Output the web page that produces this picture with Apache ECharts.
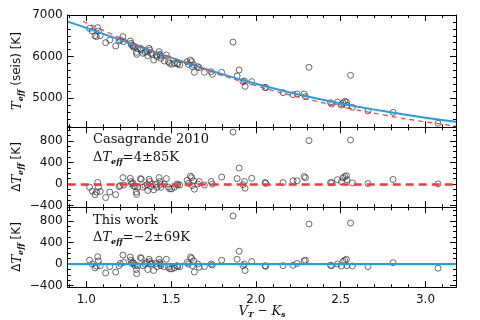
<!DOCTYPE html>
<html>
<head>
<meta charset="utf-8">
<script src="https://cdn.jsdelivr.net/npm/echarts@6.0.0/dist/echarts.min.js"></script>
<style>
  body { margin: 0; background: #fff; }
  #main { width: 480px; height: 320px; }
</style>
</head>
<body>
<div id="main"></div>
<script>
// V_T - K_s colour of each star (shared by the three panels)
var vk = [1.019,1.035,1.051,1.059,1.067,1.071,1.082,1.114,1.138,1.173,
          1.193,1.200,1.216,1.220,1.259,1.263,1.267,1.275,1.279,1.287,
          1.295,1.297,1.303,1.319,1.324,1.334,1.346,1.358,1.362,1.370,
          1.374,1.381,1.389,1.397,1.413,1.417,1.429,1.433,1.437,1.440,
          1.460,1.472,1.484,1.492,1.503,1.519,1.535,1.539,1.551,1.594,
          1.602,1.614,1.621,1.625,1.633,1.637,1.657,1.665,1.696,1.736,
          1.743,1.798,1.865,1.889,1.901,1.924,1.932,1.936,1.975,2.054,2.058,
          2.160,2.219,2.243,2.284,2.292,2.313,2.440,2.447,2.481,2.504,
          2.514,2.524,2.534,2.537,2.558,2.569,2.661,2.809,3.074]
// seismic Teff [K]
var teffSeis = [6679,6615,6503,6479,6696,6615,6503,6335,6399,6255,
                6375,6399,6479,6359,6375,6319,6279,6255,6223,6239,
                6103,6054,6199,6199,6159,6079,6103,6119,6022,6199,
                6159,6079,6054,5918,6038,5998,6119,6054,6022,5958,
                5894,6038,5878,5838,5814,5838,5838,5822,5798,5878,
                5814,5918,5878,5758,5798,5622,5758,5734,5622,5638,
                5574,5622,6350,5534,5678,5397,5413,5285,5397,5261,5253,
                5132,5084,5101,5101,5036,5743,4892,4860,4908,4836,
                4884,4925,4908,4829,5550,4781,4692,4661,4396]
// Delta Teff vs Casagrande 2010
var dCas = [-59,-130,-196,-148,30,-59,-136,-249,-148,-196,
            -47,-30,119,-18,107,47,0,18,-36,-47,
            -148,-190,-59,101,89,-59,-30,-12,-119,89,
            47,-47,0,-107,0,-59,119,47,-12,-59,
            0,101,-59,-89,-89,-59,0,-18,-18,71,
            12,148,119,-30,59,-95,0,47,-18,47,
            0,130,961,101,297,-12,47,-77,107,30,12,
            27,62,62,139,116,804,27,27,80,44,
            116,139,156,80,814,21,9,85,4]
// Delta Teff vs this work
var dThis = [71,0,-71,-36,136,59,-30,-166,-47,-148,
             -30,12,166,30,130,71,12,30,12,-30,
             -101,-178,-30,119,107,-30,0,30,-101,89,
             47,0,12,-119,12,-47,89,30,0,-30,
             -47,89,-59,-89,-89,-71,-30,-47,-47,30,
             0,130,107,-30,59,-148,0,-59,-47,0,
             -18,71,890,89,237,-30,0,-119,47,-30,-42,
             -30,-24,12,59,71,741,-24,-30,0,-36,
             47,71,89,-30,759,-36,-47,24,-77]

// calibration curves
var blueVK = [0.89,1.0,1.25,1.5,1.75,2.0,2.25,2.5,2.75,3.0,3.18]
var blueT  = [6840,6690,6330,5975,5640,5345,5090,4870,4690,4530,4435]
var redVK  = [0.98,1.1,1.25,1.5,1.75,2.0,2.25,2.5,2.75,3.0,3.18]
var redT   = [6850,6630,6360,5985,5620,5300,5030,4800,4600,4430,4330]

var xMajor = [1.0,1.5,2.0,2.5,3.0]
var yTopMajor = [5000,6000,7000]
var yDMajor = [-400,0,400,800]

var X_MIN = 0.89, X_MAX = 3.18
var LEFT = 67.7, WIDTH = 388.3
var panels = [
    {top: 15, height: 112.3, min: 4300, max: 7000, major: yTopMajor, minorStep: 1000 / 6},
    {top: 127.3, height: 80, min: -430, max: 1050, major: yDMajor, minorStep: 100},
    {top: 207.3, height: 80, min: -430, max: 1050, major: yDMajor, minorStep: 100}
]

function steps(lo, hi, step) {
    var out = []
    for (var k = Math.ceil(lo / step - 1e-6); k * step <= hi + 1e-6; k++) out.push(+(k * step).toFixed(4))
    return out
}
var xMinor = steps(X_MIN, X_MAX, 0.1)
var labFont = {fontFamily: 'DejaVu Sans', fontSize: 12, color: '#111'}
function minus(v) { return String(v).replace('-', '\u2212') }

var grids = [], xAxes = [], yAxes = []
panels.forEach(function (p, g) {
    grids.push({left: LEFT, top: p.top, width: WIDTH, height: p.height})
    ;['bottom', 'top'].forEach(function (pos) {
        [true, false].forEach(function (isMajor) {
            xAxes.push({
                type: 'value', gridIndex: g, position: pos, min: X_MIN, max: X_MAX,
                splitLine: {show: false},
                axisLine: {show: isMajor, onZero: false, lineStyle: {color: '#000', width: 1}},
                axisTick: {inside: true, length: isMajor ? 6 : 3, customValues: isMajor ? xMajor : xMinor,
                           lineStyle: {color: '#000', width: 1}},
                axisLabel: Object.assign({show: isMajor && pos == 'bottom' && g == 2, customValues: xMajor, margin: 7,
                           formatter: function (v) { return v.toFixed(1) }}, labFont)
            })
        })
    })
    ;['left', 'right'].forEach(function (pos) {
        [true, false].forEach(function (isMajor) {
            yAxes.push({
                type: 'value', gridIndex: g, position: pos, min: p.min, max: p.max,
                splitLine: {show: false},
                axisLine: {show: isMajor, onZero: false, lineStyle: {color: '#000', width: 1}},
                axisTick: {inside: true, length: isMajor ? 6 : 3,
                           customValues: isMajor ? p.major : steps(p.min, p.max, p.minorStep),
                           lineStyle: {color: '#000', width: 1}},
                axisLabel: Object.assign({show: isMajor && pos == 'left', customValues: p.major, margin: 5,
                           formatter: minus}, labFont)
            })
        })
    })
})

function pairs(xs, ys) { return xs.map(function (x, i) { return [x, ys[i]] }) }
var circle = {color: 'rgba(0,0,0,0)', borderColor: '#333', borderWidth: 0.9}

var series = [
    {type: 'line', xAxisIndex: 0, yAxisIndex: 0, data: pairs(blueVK, blueT), smooth: true, showSymbol: false,
     lineStyle: {color: '#1e9fe8', width: 2}},
    {type: 'line', xAxisIndex: 0, yAxisIndex: 0, data: pairs(redVK, redT), smooth: true, showSymbol: false,
     lineStyle: {color: '#ff3b3b', width: 1.2, type: [5, 4]}},
    {type: 'scatter', xAxisIndex: 0, yAxisIndex: 0, data: pairs(vk, teffSeis), symbolSize: 6, itemStyle: circle},
    {type: 'scatter', xAxisIndex: 4, yAxisIndex: 4, data: pairs(vk, dCas), symbolSize: 6, itemStyle: circle,
     markLine: {silent: true, symbol: 'none', label: {show: false},
                lineStyle: {color: '#ff3333', width: 2.5, type: [8, 5]}, data: [{yAxis: 0}]}},
    {type: 'scatter', xAxisIndex: 8, yAxisIndex: 8, data: pairs(vk, dThis), symbolSize: 6, itemStyle: circle,
     markLine: {silent: true, symbol: 'none', label: {show: false},
                lineStyle: {color: '#1e9fe8', width: 2, type: 'solid'}, data: [{yAxis: 0}]}}
]

var serif = 'DejaVu Serif'
var richBase = {
    n: {fontFamily: serif, fontSize: 13, fill: '#111', lineHeight: 14, verticalAlign: 'top'},
    a: {fontFamily: 'DejaVu Sans', fontSize: 12, fill: '#111', lineHeight: 14, verticalAlign: 'top'},
    t: {fontFamily: serif, fontStyle: 'italic', fontSize: 13, fill: '#111', lineHeight: 14, verticalAlign: 'top'},
    s: {fontFamily: serif, fontStyle: 'italic', fontWeight: 'bold', fontSize: 8, fill: '#111', lineHeight: 9,
        padding: [6, 0, 0, 0], verticalAlign: 'top'}
}
function txt(x, y, text, rot, align) {
    return {type: 'text', x: x, y: y, rotation: rot || 0, silent: true,
            style: {text: text, rich: richBase, align: align || 'left', verticalAlign: 'middle'}}
}

var graphics = [
    txt(93, 140.5, '{n|Casagrande 2010}'),
    txt(93, 158.5, '{n|\u0394}{t|T}{s|eff}{n|=4\u00b185K}'),
    txt(93, 221, '{n|This work}'),
    txt(93, 238.5, '{n|\u0394}{t|T}{s|eff}{n|=\u22122\u00b169K}'),
    txt(18, 71, '{t|T}{s|eff}{a| (seis) [K]}', Math.PI / 2, 'center'),
    txt(18, 167, '{a|\u0394}{t|T}{s|eff}{a| [K]}', Math.PI / 2, 'center'),
    txt(18, 247, '{a|\u0394}{t|T}{s|eff}{a| [K]}', Math.PI / 2, 'center'),
    txt(262, 312, '{t|V}{s|T}{a| \u2212 }{t|K}{s|s}', 0, 'center')
]

var myChart = echarts.init(document.getElementById('main'))
myChart.setOption({
    animation: false,
    backgroundColor: '#fff',
    grid: grids,
    xAxis: xAxes,
    yAxis: yAxes,
    series: series,
    graphic: graphics
})
</script>
</body>
</html>
